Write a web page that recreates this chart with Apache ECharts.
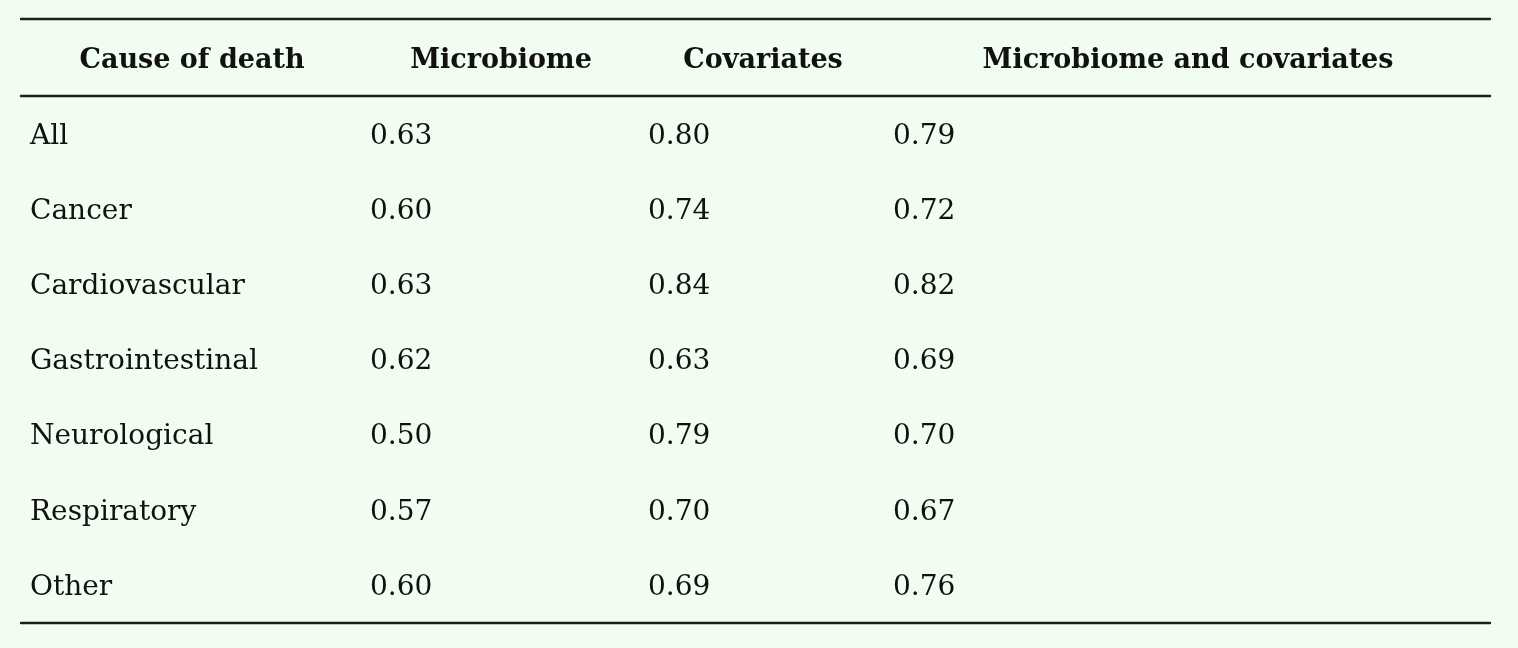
<!DOCTYPE html>
<html>
<head>
<meta charset="utf-8">
<script src="https://cdn.jsdelivr.net/npm/echarts@6/dist/echarts.min.js"></script>
<style>
html,body{margin:0;padding:0;background:#f1fdf0;}
#chart{width:1518px;height:648px;}
</style>
</head>
<body>
<div id="chart"></div>
<script>
// ---- data ----
const headers = ['Cause of death', 'Microbiome', 'Covariates', 'Microbiome and covariates'];
const causes = ['All', 'Cancer', 'Cardiovascular', 'Gastrointestinal', 'Neurological', 'Respiratory', 'Other'];
const microbiome = ['0.63', '0.60', '0.63', '0.62', '0.50', '0.57', '0.60'];
const covariates = ['0.80', '0.74', '0.84', '0.63', '0.79', '0.70', '0.69'];
const microbiomeAndCovariates = ['0.79', '0.72', '0.82', '0.69', '0.70', '0.67', '0.76'];

// ---- layout (styles/positions only) ----
const colLeft = [30, 370, 648, 893];
const headerCenter = [192, 501, 763, 1188];
const bodyTop = 97, bodyBottom = 648 - 623;
const FONT = 'DejaVu Serif';
const TEXT = '#111111';

const columns = [causes, microbiome, covariates, microbiomeAndCovariates];

const grids = [], xAxes = [], yAxes = [], series = [];

columns.forEach((col, j) => {
  grids.push({ left: colLeft[j], top: bodyTop, bottom: bodyBottom,
               width: 2 * (headerCenter[j] - colLeft[j]) });
  xAxes.push({
    gridIndex: j, type: 'value', min: 0, max: 1, position: 'top',
    name: headers[j], nameLocation: 'middle', nameGap: 36,
    nameTextStyle: { fontFamily: FONT, fontWeight: 'bold', fontSize: 27, color: TEXT, verticalAlign: 'middle' },
    axisLine: { show: false }, axisTick: { show: false }, axisLabel: { show: false }, splitLine: { show: false }
  });
  yAxes.push({
    gridIndex: j, type: 'category', data: causes, inverse: true,
    axisLine: { show: false }, axisTick: { show: false }, axisLabel: { show: false }, splitLine: { show: false }
  });
  series.push({
    type: 'scatter', xAxisIndex: j, yAxisIndex: j, symbolSize: 0, silent: true,
    data: col.map((v, i) => ({ value: [0, causes[i]], text: v })),
    label: {
      show: true, position: 'right', distance: 0, align: 'left', verticalAlign: 'middle',
      offset: [0, 2],
      fontFamily: FONT, fontSize: 28, color: TEXT, opacity: 1,
      formatter: p => p.data.text
    },
    emphasis: { disabled: true }
  });
});

// rule lines: header band and body band
function ruleAxis(gi, pos) {
  return { gridIndex: gi, type: 'value', min: 0, max: 1, position: pos,
    axisLine: { show: true, onZero: false, lineStyle: { color: '#1e1e1e', width: 2.4 } },
    axisTick: { show: false }, axisLabel: { show: false }, splitLine: { show: false } };
}
const g1 = grids.length;
grids.push({ left: 21, right: 28, top: 19, height: 77 });
xAxes.push(ruleAxis(g1, 'top'));
xAxes.push(ruleAxis(g1, 'bottom'));
yAxes.push({ gridIndex: g1, type: 'value', min: 0, max: 1, show: false });
const g2 = grids.length;
grids.push({ left: 21, right: 28, top: 96, bottom: 648 - 623 });
xAxes.push(ruleAxis(g2, 'bottom'));
yAxes.push({ gridIndex: g2, type: 'value', min: 0, max: 1, show: false });

const chart = echarts.init(document.getElementById('chart'));
chart.setOption({
  backgroundColor: '#f1fdf0',
  animation: false,
  grid: grids,
  xAxis: xAxes,
  yAxis: yAxes,
  series: series
});
</script>
</body>
</html>
